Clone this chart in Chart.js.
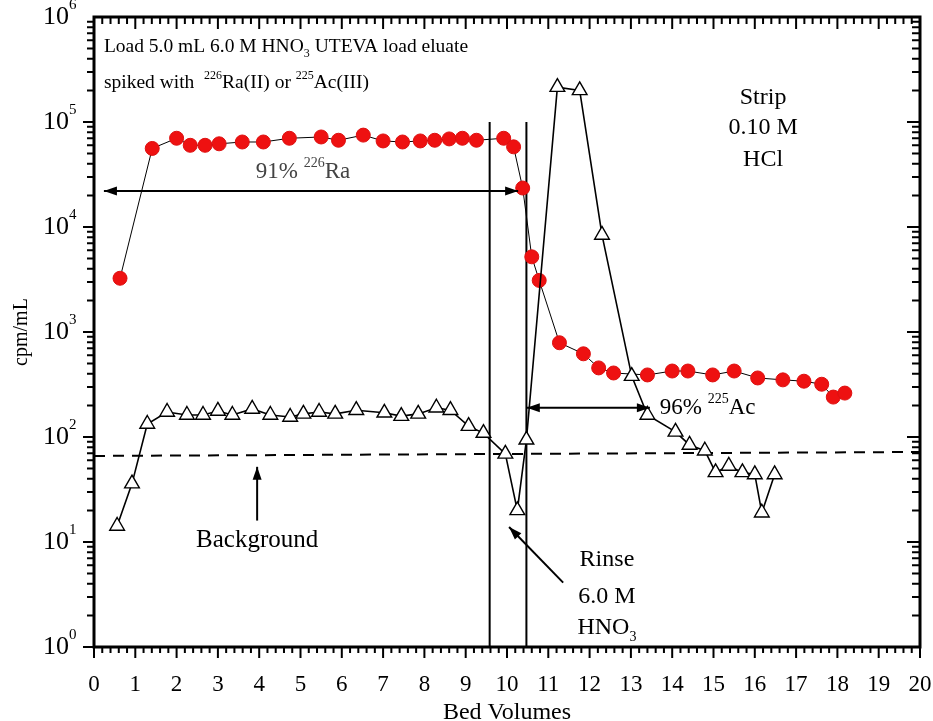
<!DOCTYPE html>
<html><head><meta charset="utf-8">
<script src="https://cdn.jsdelivr.net/npm/chart.js@4.4.0/dist/chart.umd.min.js"></script>
<style>html,body{margin:0;padding:0;background:#fff;}#wrap{width:933px;height:721px;}</style>
</head><body><div id="wrap"><canvas id="c" width="933" height="721"></canvas></div>
<script>
// ---- data ----
const raX = [0.63,1.41,2.0,2.33,2.69,3.03,3.59,4.1,4.73,5.5,5.92,6.52,7.0,7.47,7.9,8.25,8.6,8.92,9.26,9.92,10.16,10.38,10.6,10.78,11.27,11.85,12.22,12.58,13.4,14.0,14.38,14.98,15.5,16.07,16.68,17.19,17.62,17.9,18.18];
const raY = [3250,56000,70000,60000,60000,62000,64500,64500,70000,72000,67000,75000,66000,64500,66000,67000,69000,70000,67000,70000,58000,23500,5200,3100,790,620,455,407,390,425,425,390,425,365,350,340,318,240,262];
const acX = [0.56,0.92,1.29,1.77,2.25,2.64,3.0,3.35,3.83,4.27,4.75,5.07,5.45,5.84,6.35,7.03,7.44,7.85,8.29,8.63,9.07,9.43,9.96,10.25,10.47,11.22,11.76,12.3,13.02,13.4,14.08,14.42,14.79,15.05,15.37,15.7,16.0,16.17,16.48];
const acY = [14.2,36,133,173,162,162,177,162,185,162,155,166,173,166,180,170,158,166,190,180,127,109,69,20,94,215000,200000,8400,380,162,112,84,74,46,53,46,44,19,44];
const backgroundX = [0,20];
const backgroundY = [66,72];
const rinseLineX = [9.58,9.58];
const stripLineX = [10.47,10.47];
const phaseLineY = [100000,1];
const xTickLabels = ['0','1','2','3','4','5','6','7','8','9','10','11','12','13','14','15','16','17','18','19','20'];
const yDecadeExponents = ['0','1','2','3','4','5','6'];

const FONT = '"Liberation Serif", "Times New Roman", serif';
const pts = (xs, ys) => xs.map((x, i) => ({x, y: ys[i]}));

// annotation anchors (data coordinates)
const notes = [
  {x:0.24, y:5.2e5, align:'left', size:19.5, parts:[{t:'Load 5.0 mL 6.0 M HNO'},{t:'3',sub:1},{t:' UTEVA load eluate'}]},
  {x:0.24, y:2.35e5, align:'left', size:19.5, parts:[{t:'spiked with  '},{t:'226',sup:1},{t:'Ra(II) or '},{t:'225',sup:1},{t:'Ac(III)'}]},
  {x:16.2, y:1.69e5, align:'center', size:24, parts:[{t:'Strip'}]},
  {x:16.2, y:8.77e4, align:'center', size:24, parts:[{t:'0.10 M'}]},
  {x:16.2, y:4.35e4, align:'center', size:24, parts:[{t:'HCl'}]},
  {x:5.06, y:3.34e4, align:'center', size:23, color:'#444', parts:[{t:'91% '},{t:'226',sup:1},{t:'Ra'}]},
  {x:13.7, y:189, align:'left', size:23, parts:[{t:'96% '},{t:'225',sup:1},{t:'Ac'}]},
  {x:3.95, y:10.4, align:'center', size:25, parts:[{t:'Background'}]},
  {x:12.42, y:6.74, align:'center', size:24, parts:[{t:'Rinse'}]},
  {x:12.42, y:2.99, align:'center', size:24, parts:[{t:'6.0 M'}]},
  {x:12.42, y:1.52, align:'center', size:24, parts:[{t:'HNO'},{t:'3',sub:1}]}
];
const arrows = [
  {x1:0.24, y1:22000, x2:10.27, y2:22000, both:true},
  {x1:10.48, y1:190, x2:13.46, y2:190, both:true},
  {x1:3.95, y1:16, x2:3.95, y2:52, both:false},
  {x1:11.36, y1:4.1, x2:10.05, y2:13.9, both:false}
];

function drawRich(ctx, n, x, y) {
  const big = n.size, small = Math.round(n.size * 0.6);
  let w = 0;
  for (const p of n.parts) {
    ctx.font = ((p.sup || p.sub) ? small : big) + 'px ' + FONT;
    p.w = ctx.measureText(p.t).width; w += p.w;
  }
  let cx = n.align === 'center' ? x - w / 2 : x;
  ctx.textBaseline = 'middle'; ctx.textAlign = 'left';
  ctx.fillStyle = n.color || '#000';
  for (const p of n.parts) {
    ctx.font = ((p.sup || p.sub) ? small : big) + 'px ' + FONT;
    const dy = p.sup ? -big * 0.36 : (p.sub ? big * 0.38 : 0);
    ctx.fillText(p.t, cx, y + dy);
    cx += p.w;
  }
}
function head(ctx, xa, ya, xb, yb) {
  const ang = Math.atan2(yb - ya, xb - xa), L = 13, W = 4.5;
  ctx.beginPath();
  ctx.moveTo(xb, yb);
  ctx.lineTo(xb - L * Math.cos(ang) + W * Math.sin(ang), yb - L * Math.sin(ang) - W * Math.cos(ang));
  ctx.lineTo(xb - L * Math.cos(ang) - W * Math.sin(ang), yb - L * Math.sin(ang) + W * Math.cos(ang));
  ctx.closePath(); ctx.fill();
}

const decor = {
  id: 'decor',
  afterDraw(chart) {
    const ctx = chart.ctx, a = chart.chartArea, xs = chart.scales.x, ys = chart.scales.y;
    ctx.save();
    ctx.strokeStyle = '#000'; ctx.fillStyle = '#000';
    ctx.lineWidth = 2;
    ctx.beginPath();
    for (let i = 0; i <= 100; i++) {
      const v = i / 5, px = xs.getPixelForValue(v), maj = i % 5 === 0;
      ctx.moveTo(px, a.bottom); ctx.lineTo(px, a.bottom + (maj ? 11 : 6));
      ctx.moveTo(px, a.top); ctx.lineTo(px, a.top + (maj ? 12 : 7));
    }
    for (let d = 0; d < 6; d++) {
      for (let m = 1; m <= 9; m++) {
        const py = ys.getPixelForValue(m * Math.pow(10, d)), maj = m === 1;
        ctx.moveTo(a.left, py); ctx.lineTo(a.left - (maj ? 11 : 7), py);
        ctx.moveTo(a.right, py); ctx.lineTo(a.right - (maj ? 13 : 8), py);
      }
    }
    ctx.stroke();
    ctx.lineWidth = 3;
    ctx.strokeRect(a.left, a.top, a.right - a.left, a.bottom - a.top);
    yDecadeExponents.forEach((e, i) => {
      const py = ys.getPixelForValue(Math.pow(10, i));
      ctx.textBaseline = 'middle'; ctx.textAlign = 'right';
      ctx.font = '26px ' + FONT; ctx.fillText('10', 69, py);
      ctx.textAlign = 'left'; ctx.font = '15px ' + FONT; ctx.fillText(e, 69, py - 12);
    });
    ctx.lineWidth = 2;
    for (const r of arrows) {
      const x1 = xs.getPixelForValue(r.x1), y1 = ys.getPixelForValue(r.y1);
      const x2 = xs.getPixelForValue(r.x2), y2 = ys.getPixelForValue(r.y2);
      ctx.beginPath(); ctx.moveTo(x1, y1); ctx.lineTo(x2, y2); ctx.stroke();
      head(ctx, x1, y1, x2, y2);
      if (r.both) head(ctx, x2, y2, x1, y1);
    }
    for (const n of notes) drawRich(ctx, n, xs.getPixelForValue(n.x), ys.getPixelForValue(n.y));
    ctx.restore();
  }
};

new Chart(document.getElementById('c'), {
  type: 'scatter',
  data: {
    datasets: [
      {label:'225Ac', data: pts(acX, acY), showLine:true, borderColor:'#000', borderWidth:1.6,
       pointStyle:'triangle', pointRadius:8.5, pointBackgroundColor:'#fff', pointBorderColor:'#000', pointBorderWidth:1.4, order:1},
      {label:'226Ra', data: pts(raX, raY), showLine:true, borderColor:'#000', borderWidth:1,
       pointStyle:'circle', pointRadius:7, pointBackgroundColor:'#ee1111', pointBorderColor:'#dd1010', pointBorderWidth:1, order:2},
      {label:'Background', data: pts(backgroundX, backgroundY), showLine:true, borderColor:'#000', borderWidth:2,
       borderDash:[11,8], pointRadius:0, order:3},
      {label:'Rinse start', data: pts(rinseLineX, phaseLineY), showLine:true, borderColor:'#000', borderWidth:2, pointRadius:0, order:4},
      {label:'Strip start', data: pts(stripLineX, phaseLineY), showLine:true, borderColor:'#000', borderWidth:2, pointRadius:0, order:5}
    ]
  },
  options: {
    responsive:false, animation:false, devicePixelRatio:1,
    layout:{padding:{top:17,right:13,left:0,bottom:0}},
    plugins:{legend:{display:false}, tooltip:{enabled:false}},
    scales:{
      x:{type:'linear', min:0, max:20, position:'bottom',
         afterBuildTicks:(s)=>{s.ticks = xTickLabels.map(t=>({value:Number(t)}));},
         ticks:{callback:(v)=>xTickLabels[v], font:{family:FONT,size:23}, color:'#000', padding:24, maxRotation:0, autoSkip:false},
         grid:{display:false, drawTicks:false}, border:{display:false},
         title:{display:true, text:'Bed Volumes', font:{family:FONT,size:24}, color:'#000', padding:{top:0,bottom:-6}},
         afterFit:(s)=>{s.height = 74; s.paddingLeft = 0; s.paddingRight = 0;}},
      y:{type:'logarithmic', min:1, max:1e6,
         ticks:{display:false}, grid:{display:false, drawTicks:false}, border:{display:false},
         title:{display:true, text:'cpm/mL', font:{family:FONT,size:20}, color:'#000', padding:{top:10,bottom:0}},
         afterFit:(s)=>{s.width = 94; s.paddingTop = 0; s.paddingBottom = 0;}}
    }
  },
  plugins:[decor]
});
</script></body></html>
